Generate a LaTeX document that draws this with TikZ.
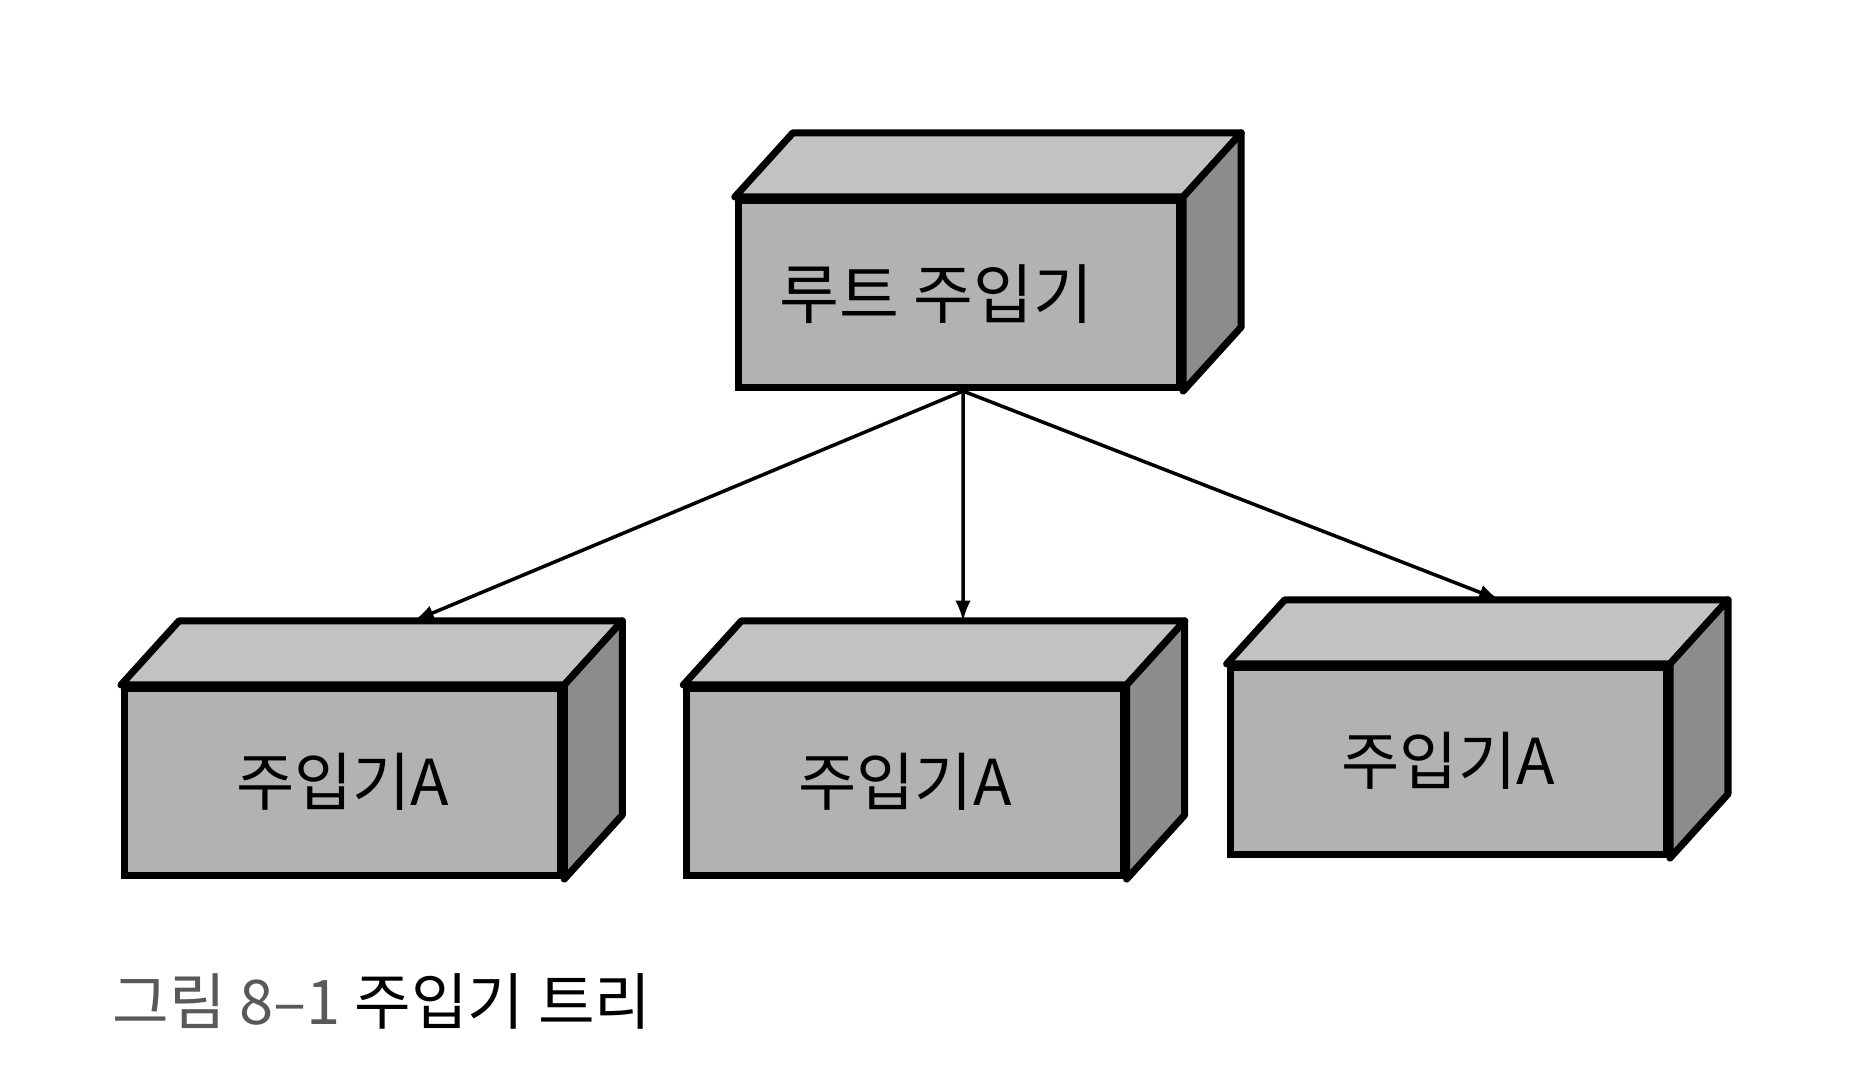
\documentclass[tikz,border=0pt]{standalone}
\usepackage{fontspec}
\setmainfont{Noto Sans CJK KR}
\usetikzlibrary{positioning}

\begin{document}
\begin{tikzpicture}[x=0.01cm, y=0.01cm,
boxnode/.style={rectangle, draw=black, fill=black!30, line width=2pt, minimum width=4.36cm, minimum height=1.87cm, font=\fontsize{18}{22}\selectfont},
topface/.style={draw=black, fill=black!24, line width=2pt, line join=round},
sideface/.style={draw=black, fill=black!45, line width=2pt, line join=round},
link/.style={-latex, line width=1pt},
]
\useasboundingbox (0,0) rectangle (1869,1073);
%Nodes
\node[boxnode, minimum width=4.41cm, font=\fontsize{18.5}{22}\selectfont] (root) at (959,779) {루트 주입기\hspace*{0.45cm}};
\node[boxnode]      (mid)     at (905,291)                       {주입기A};
\node[boxnode]      (lft)     [left=1.19cm of mid]               {주입기A};
\node[boxnode]      (rgt)     [right=1.0cm of mid, yshift=0.21cm] {주입기A};
\node (caption) [anchor=base west, font=\fontsize{17.5}{21}\selectfont] at (100,48) {\textcolor{black!65}{그림 8–1} 주입기 트리};

%Faces
\foreach \n in {root,lft,mid,rgt}{
  \draw[topface] (\n.north west) -- ++(58,64) -- ([shift={(58,64)}]\n.north east) -- (\n.north east) -- cycle;
  \draw[sideface] (\n.north east) -- ++(58,64) -- ([shift={(58,64)}]\n.south east) -- (\n.south east) -- cycle;
}

%Lines
\coordinate (rootout) at ([xshift=0.04cm]root.south);
\draw[link] (rootout) -- ([shift={(71,64)}]lft.north);
\draw[link] (rootout) -- ([shift={(58,64)}]mid.north);
\draw[link] (rootout) -- ([shift={(51,64)}]rgt.north);

\end{tikzpicture}
\end{document}
